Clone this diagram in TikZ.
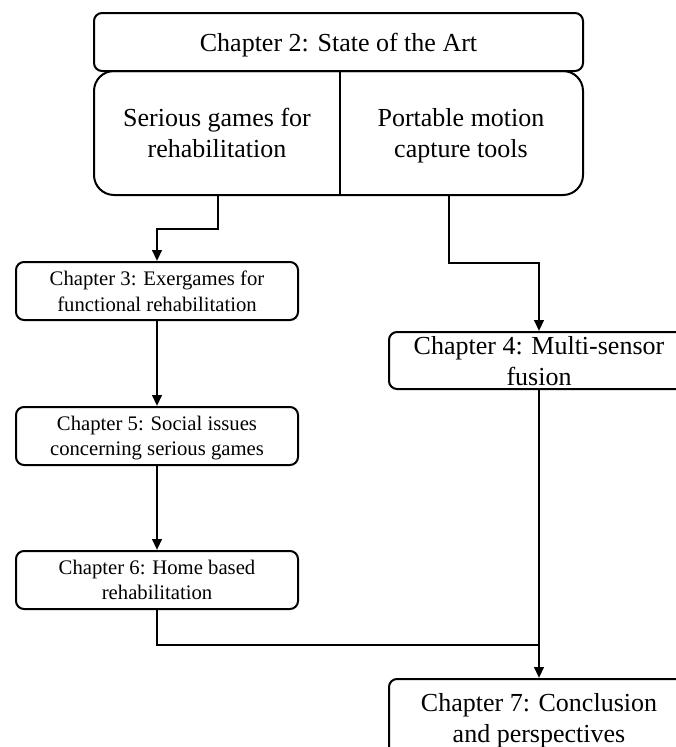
\documentclass[tikz,border=0pt]{standalone}
\usepackage{fontspec}
\setmainfont{Liberation Serif}
\usetikzlibrary{arrows.meta}
\tikzset{
  box/.style={draw, line width=2pt, rounded corners=8pt, align=center, inner sep=0pt},
  bigtext/.style={font=\fontsize{26}{31}\selectfont, text depth=0pt},
  smalltext/.style={font=\fontsize{20.7}{25.5}\selectfont, text depth=0pt},
  wire/.style={line width=2.4pt},
  conn/.style={line width=2.4pt, -{Triangle[width=9.5pt,length=11pt]}},
  label/.style={align=center, inner sep=0pt}
}
\begin{document}
\begin{tikzpicture}[x=1pt,y=-1pt]
\useasboundingbox (0,0) rectangle (676,747);
\clip (0,0) rectangle (676,747);
\fill[white] (0,0) rectangle (676,747);
% Chapter 2
\node[box, bigtext, minimum width=489pt, minimum height=58pt] (ch2) at (338.5,42) {Chapter 2: State of the Art};
\node[box, rounded corners=20pt, minimum width=489pt, minimum height=124pt] (sota) at (338.5,133) {};
\draw[line width=2pt] (sota.north -| 340,0) -- (sota.south -| 340,0);
\node[label, bigtext] (sg) at (217,133) {Serious games for\\rehabilitation};
\node[label, bigtext] (pm) at (461,133) {Portable motion\\capture tools};
% left column
\node[box, smalltext, minimum width=282pt, minimum height=58pt] (ch3) at (157,291) {Chapter 3: Exergames for\\functional rehabilitation};
\node[box, smalltext, minimum width=282pt, minimum height=58pt] (ch5) at (157,436) {Chapter 5: Social issues\\concerning serious games};
\node[box, smalltext, minimum width=282pt, minimum height=58pt] (ch6) at (157,580) {Chapter 6: Home based\\rehabilitation};
% right column
\node[box, bigtext, minimum width=300pt, minimum height=57pt] (ch4) at (539,360.5) {Chapter 4: Multi-sensor\\fusion};
\node[box, bigtext, minimum width=300pt, minimum height=77pt] (ch7) at (539,717.5) {Chapter 7: Conclusion\\and perspectives};
% connectors
\coordinate (s1) at (218,195);
\coordinate (s2) at (449,195);
\coordinate (j) at (539,645);
\draw[conn] (s1) -- (218,229) -| (ch3.north);
\draw[conn] (s2) -- (449,263) -| (ch4.north);
\draw[conn] (ch3.south) -- (ch5.north);
\draw[conn] (ch5.south) -- (ch6.north);
\draw[wire] (ch6.south) |- (j);
\draw[conn] (ch4.south) -- (ch7.north);
\end{tikzpicture}
\end{document}
